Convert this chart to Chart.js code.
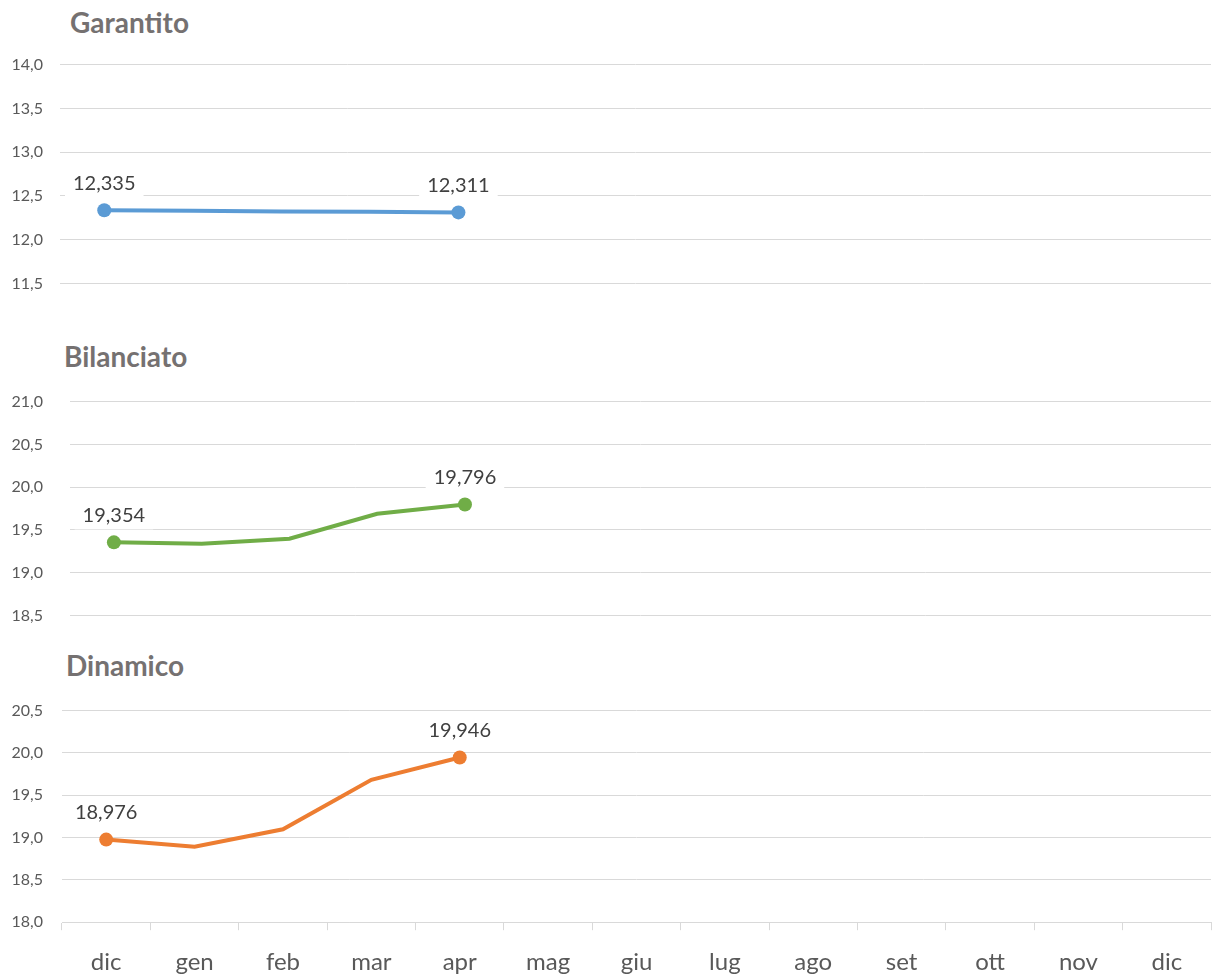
<!DOCTYPE html>
<html>
<head>
<meta charset="utf-8">
<script src="https://cdn.jsdelivr.net/npm/chart.js@4/dist/chart.umd.min.js"></script>
<style>
  body { margin: 0; background: #fff; width: 1218px; height: 977px; position: relative; overflow: hidden; }
  canvas { position: absolute; left: 0; }
  .title { position: absolute; font: bold 28px Lato, "Open Sans", sans-serif; color: #757171; line-height: 1; }
</style>
</head>
<body>
<div class="title" style="left:70px; top:8px;">Garantito</div>
<div class="title" style="left:64px; top:342px;">Bilanciato</div>
<div class="title" style="left:66px; top:651px;">Dinamico</div>

<canvas id="c1" width="1218" height="272" style="top:38px;"></canvas>
<canvas id="c2" width="1218" height="287" style="top:365px;"></canvas>
<canvas id="c3" width="1218" height="313" style="top:682px;"></canvas>

<script>
const months = ["dic", "gen", "feb", "mar", "apr", "mag", "giu", "lug", "ago", "set", "ott", "nov", "dic"];
const garantito = [12.335, 12.33, 12.322, 12.32, 12.311];
const bilanciato = [19.354, 19.337, 19.396, 19.688, 19.796];
const dinamico = [18.976, 18.892, 19.098, 19.683, 19.946];

const FONT = "Lato, 'Open Sans', sans-serif";
const comma = (v, d) => v.toFixed(d).replace(".", ",");

// labels on first and last point, white box behind like Excel
const endLabels = {
  id: "endLabels",
  afterDatasetsDraw(chart) {
    const ctx = chart.ctx;
    const meta = chart.getDatasetMeta(0);
    const data = chart.data.datasets[0].data;
    [0, data.length - 1].forEach(i => {
      const pt = meta.data[i];
      const txt = comma(data[i], 3);
      ctx.save();
      ctx.font = "20px " + FONT;
      const w = ctx.measureText(txt).width;
      const y = pt.y - 27;
      ctx.fillStyle = "#fff";
      ctx.fillRect(pt.x - w / 2 - 8, y - 14, w + 16, 28);
      ctx.fillStyle = "#404040";
      ctx.textAlign = "center";
      ctx.textBaseline = "middle";
      ctx.fillText(txt, pt.x, y);
      ctx.restore();
    });
  }
};

function makeChart(id, values, color, min, max, yWidth, showX) {
  const n = values.length;
  const radius = values.map((v, i) => (i === 0 || i === n - 1) ? 7 : 0);
  new Chart(document.getElementById(id), {
    type: "line",
    data: {
      labels: months,
      datasets: [{
        data: values,
        borderColor: color,
        backgroundColor: color,
        borderWidth: 4,
        pointRadius: radius,
        pointHoverRadius: radius,
        pointBorderWidth: 0,
        tension: 0
      }]
    },
    options: {
      responsive: false,
      devicePixelRatio: 1,
      animation: false,
      layout: { padding: { top: 0, right: 5, bottom: 0, left: 0 } },
      plugins: { legend: { display: false }, tooltip: { enabled: false } },
      scales: {
        x: {
          display: showX,
          offset: true,
          grid: { offset: true, drawOnChartArea: false, color: "#d9d9d9", tickLength: 8 },
          border: { color: "#d9d9d9" },
          ticks: { color: "#595959", font: { family: FONT, size: 24 }, padding: 18, maxRotation: 0, autoSkip: false }
        },
        y: {
          min: min,
          max: max,
          afterFit: s => { s.width = yWidth; },
          grid: { color: "#d9d9d9", drawTicks: false },
          border: { display: false },
          ticks: {
            stepSize: 0.5,
            padding: yWidth - 43,
            color: "#595959",
            font: { family: FONT, size: 16 },
            callback: v => comma(v, 1)
          }
        }
      }
    },
    plugins: [endLabels]
  });
}

makeChart("c1", garantito, "#5b9bd5", 11.5, 14.0, 60, false);
makeChart("c2", bilanciato, "#70ad47", 18.5, 21.0, 70, false);
makeChart("c3", dinamico, "#ed7d31", 18.0, 20.5, 62, true);
</script>
</body>
</html>
